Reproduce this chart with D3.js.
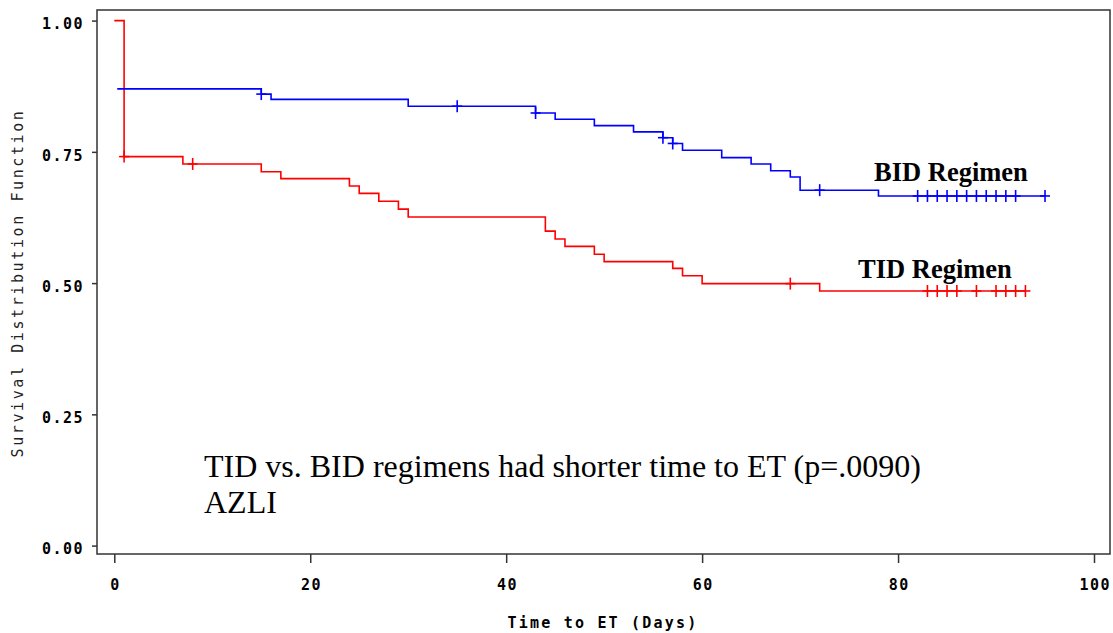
<!DOCTYPE html>
<html>
<head>
<meta charset="utf-8">
<script src="https://cdn.jsdelivr.net/npm/d3@7"></script>
<style>
  html, body { margin: 0; padding: 0; background: #fff; }
  svg { display: block; }
</style>
</head>
<body>
<svg id="chart" width="1113" height="633"></svg>
<script>
// ---- Data ----
const xTicks = [0, 20, 40, 60, 80, 100];
const yTicks = [0, 0.25, 0.5, 0.75, 1.0];
const yTickLabels = ["0.00", "0.25", "0.50", "0.75", "1.00"];

// BID regimen (blue) Kaplan-Meier steps
const bidTimes = [0.3, 15, 16, 30, 43, 45, 49, 53, 56, 57, 58, 62, 65, 67, 69, 70, 78];
const bidSurv  = [0.870, 0.860, 0.850, 0.837, 0.824, 0.812, 0.800, 0.788, 0.777, 0.766, 0.753, 0.739, 0.727, 0.714, 0.702, 0.677, 0.666];
const bidEnd = 95;
const bidCensor = [15, 35, 43, 56, 57, 72, 82, 83, 84, 85, 86, 87, 88, 89, 90, 91, 92, 95];

// TID regimen (red) Kaplan-Meier steps
const tidTimes = [0, 1, 7, 15, 17, 24, 25, 27, 29, 30, 44, 45, 46, 49, 50, 57, 58, 60, 72];
const tidSurv  = [1.0, 0.741, 0.727, 0.712, 0.699, 0.685, 0.671, 0.656, 0.641, 0.626, 0.599, 0.584, 0.570, 0.555, 0.541, 0.528, 0.514, 0.499, 0.485];
const tidEnd = 93;
const tidCensor = [1, 8, 69, 83, 84, 85, 86, 88, 90, 91, 92, 93];

const seriesLabels = ["BID Regimen", "TID Regimen"];
const xTitle = "Time to ET (Days)";
const yTitle = "Survival Distribution Function";
const noteLines = ["TID vs. BID regimens had shorter time to ET (p=.0090)", "AZLI"];

// ---- Layout ----
const svg = d3.select("#chart");
const frame = {left: 97, top: 10, right: 1110, bottom: 554};
const x = d3.scaleLinear().domain([0, 100]).range([114.3, 1094]);
const y = d3.scaleLinear().domain([0, 1]).range([545.6, 20.6]);

const monoFont = "'DejaVu Sans Mono', 'Liberation Mono', monospace";
const serifFont = "'Liberation Serif', 'Times New Roman', serif";

// frame
svg.append("rect")
  .attr("x", frame.left).attr("y", frame.top)
  .attr("width", frame.right - frame.left).attr("height", frame.bottom - frame.top)
  .attr("fill", "none").attr("stroke", "#333").attr("stroke-width", 1.5);

// y axis
const yAxis = svg.append("g").attr("transform", `translate(${frame.left},0)`)
  .call(d3.axisLeft(y).tickValues(yTicks).tickSize(5).tickFormat((d, i) => yTickLabels[i]));
yAxis.select(".domain").remove();
yAxis.selectAll(".tick line").attr("stroke", "#333").attr("stroke-width", 1.5);
yAxis.selectAll(".tick text")
  .attr("x", -13).attr("dy", "0.55em")
  .attr("font-family", monoFont).attr("font-weight", "bold")
  .attr("font-size", 15).attr("letter-spacing", 1.5).attr("fill", "#000");

// x axis
const xAxis = svg.append("g").attr("transform", `translate(0,${frame.bottom})`)
  .call(d3.axisBottom(x).tickValues(xTicks).tickSize(9).tickFormat(d3.format("d")));
xAxis.select(".domain").remove();
xAxis.selectAll(".tick line").attr("stroke", "#333").attr("stroke-width", 1.5);
xAxis.selectAll(".tick text")
  .attr("y", 36).attr("dy", 0).attr("x", 0.75)
  .attr("font-family", monoFont).attr("font-weight", "bold")
  .attr("font-size", 15).attr("letter-spacing", 1.5).attr("fill", "#000");

// axis titles
svg.append("text")
  .attr("x", 603).attr("y", 628)
  .attr("text-anchor", "middle")
  .attr("font-family", monoFont).attr("font-weight", "bold")
  .attr("font-size", 15).attr("letter-spacing", 2.2).attr("fill", "#000")
  .text(xTitle);

svg.append("text")
  .attr("transform", "translate(23,283) rotate(-90)")
  .attr("text-anchor", "middle")
  .attr("font-family", monoFont)
  .attr("font-size", 15).attr("letter-spacing", 2.6).attr("fill", "#222")
  .text(yTitle);

// ---- Curves ----
function stepPoints(times, surv, end) {
  const pts = times.map((t, i) => [t, surv[i]]);
  pts.push([end, surv[surv.length - 1]]);
  return pts;
}
function survAt(times, surv, t) {
  let s = surv[0];
  for (let i = 0; i < times.length; i++) if (times[i] <= t) s = surv[i];
  return s;
}
const line = d3.line().x(d => x(d[0])).y(d => y(d[1])).curve(d3.curveStepAfter);

function drawSeries(times, surv, end, censor, color) {
  const g = svg.append("g");
  g.append("path")
    .attr("d", line(stepPoints(times, surv, end)))
    .attr("fill", "none").attr("stroke", color).attr("stroke-width", 1.6);
  const marks = g.selectAll("g.cens").data(censor).enter().append("g")
    .attr("transform", d => `translate(${x(d)},${y(survAt(times, surv, d))})`);
  marks.append("line").attr("x1", 0).attr("x2", 0).attr("y1", -6).attr("y2", 6)
    .attr("stroke", color).attr("stroke-width", 1.6);
  marks.append("line").attr("x1", -5).attr("x2", 5).attr("y1", 0).attr("y2", 0)
    .attr("stroke", color).attr("stroke-width", 1.6);
}
drawSeries(tidTimes, tidSurv, tidEnd, tidCensor, "#ff0000");
drawSeries(bidTimes, bidSurv, bidEnd, bidCensor, "#0000ff");

// ---- Labels ----
svg.append("text")
  .attr("x", 874).attr("y", 181)
  .attr("font-family", serifFont).attr("font-weight", "bold")
  .attr("font-size", 26.5).attr("fill", "#000")
  .text(seriesLabels[0]);
svg.append("text")
  .attr("x", 858).attr("y", 278)
  .attr("font-family", serifFont).attr("font-weight", "bold")
  .attr("font-size", 26.5).attr("fill", "#000")
  .text(seriesLabels[1]);

svg.append("g").selectAll("text").data(noteLines).enter().append("text")
  .attr("x", 204).attr("y", (d, i) => 477 + i * 36)
  .attr("font-family", serifFont)
  .attr("font-size", 32).attr("fill", "#000")
  .text(d => d);
</script>
</body>
</html>
